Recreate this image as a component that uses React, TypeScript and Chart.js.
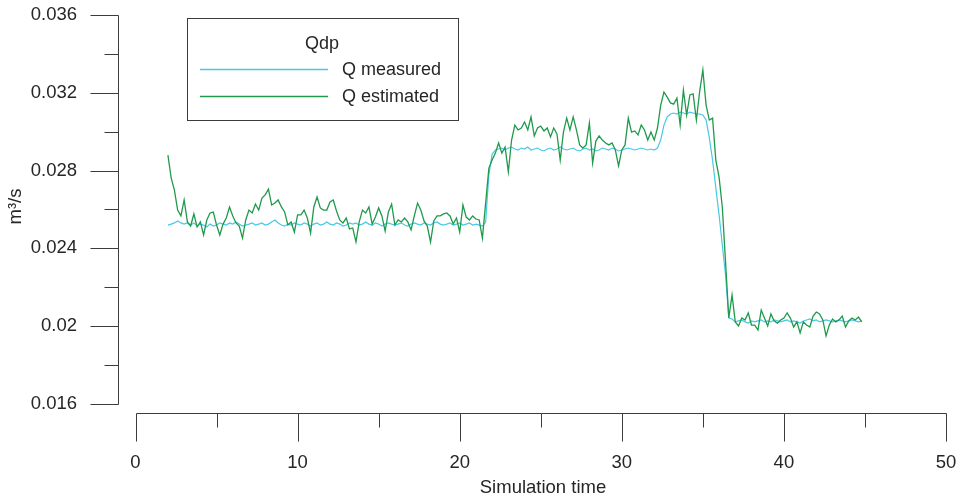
import { useEffect, useRef } from "react";
import { Chart, registerables } from "chart.js";

Chart.register(...registerables);

// Sampling of the simulation output (time units)
const timeStart = 2;
const timeStep = 0.2;

// Measured flow through the orifice, m³/s
const qMeasured = [
  0.02520, 0.02525, 0.02531, 0.02541, 0.02531, 0.02525, 0.02531, 0.02520, 0.02531, 0.02515,
  0.02525, 0.02520, 0.02510, 0.02525, 0.02515, 0.02520, 0.02531, 0.02525, 0.02520, 0.02531,
  0.02525, 0.02536, 0.02525, 0.02515, 0.02520, 0.02525, 0.02531, 0.02520, 0.02525, 0.02531,
  0.02520, 0.02525, 0.02536, 0.02546, 0.02531, 0.02520, 0.02515, 0.02525, 0.02520, 0.02531,
  0.02525, 0.02520, 0.02531, 0.02525, 0.02515, 0.02525, 0.02531, 0.02520, 0.02525, 0.02536,
  0.02525, 0.02520, 0.02531, 0.02525, 0.02515, 0.02520, 0.02531, 0.02525, 0.02531, 0.02520,
  0.02525, 0.02536, 0.02525, 0.02520, 0.02531, 0.02525, 0.02515, 0.02525, 0.02531, 0.02525,
  0.02520, 0.02525, 0.02531, 0.02520, 0.02515, 0.02525, 0.02531, 0.02525, 0.02520, 0.02531,
  0.02525, 0.02520, 0.02531, 0.02536, 0.02525, 0.02520, 0.02525, 0.02531, 0.02520, 0.02525,
  0.02531, 0.02520, 0.02525, 0.02531, 0.02520, 0.02525, 0.02520,
  0.02515, 0.02536, 0.02777, 0.02885, 0.02906, 0.02911, 0.02916,
  0.02906, 0.02916, 0.02921, 0.02911, 0.02906, 0.02916, 0.02911, 0.02921, 0.02906, 0.02911,
  0.02916, 0.02906, 0.02901, 0.02911, 0.02916, 0.02906, 0.02911, 0.02921, 0.02911, 0.02906,
  0.02911, 0.02916, 0.02906, 0.02901, 0.02911, 0.02916, 0.02906, 0.02911, 0.02901, 0.02906,
  0.02916, 0.02911, 0.02906, 0.02916, 0.02911, 0.02901, 0.02906, 0.02911, 0.02916, 0.02911,
  0.02906, 0.02911, 0.02916, 0.02911, 0.02906, 0.02911, 0.02906, 0.02916,
  0.02957, 0.03034, 0.03076, 0.03091, 0.03096, 0.03091, 0.03101, 0.03096, 0.03091, 0.03101,
  0.03096, 0.03091, 0.03091, 0.03086, 0.03060,
  0.02968, 0.02854, 0.02711, 0.02572, 0.02418, 0.02263, 0.02042, 0.02037,
  0.02022, 0.02027, 0.02032, 0.02022, 0.02016, 0.02027, 0.02022, 0.02027, 0.02032, 0.02022,
  0.02027, 0.02022, 0.02032, 0.02027, 0.02022, 0.02027, 0.02032, 0.02022, 0.02027, 0.02022,
  0.02016, 0.02027, 0.02032, 0.02037, 0.02027, 0.02032, 0.02022, 0.02027, 0.02032, 0.02027,
  0.02022, 0.02027, 0.02032, 0.02027, 0.02022, 0.02027, 0.02032, 0.02027, 0.02022, 0.02027,
];

// Flow estimated from the differential pressure, m³/s
const qEstimated = [
  0.02880, 0.02762, 0.02700, 0.02597, 0.02567, 0.02649, 0.02536, 0.02515, 0.02577, 0.02510,
  0.02536, 0.02469, 0.02546, 0.02582, 0.02587, 0.02520, 0.02469, 0.02525, 0.02556, 0.02613,
  0.02567, 0.02531, 0.02515, 0.02453, 0.02546, 0.02597, 0.02582, 0.02628, 0.02597, 0.02659,
  0.02675, 0.02705, 0.02623, 0.02633, 0.02649, 0.02613, 0.02587, 0.02520, 0.02536, 0.02484,
  0.02572, 0.02572, 0.02597, 0.02556, 0.02479, 0.02613, 0.02664, 0.02608, 0.02597, 0.02597,
  0.02639, 0.02649, 0.02592, 0.02546, 0.02531, 0.02556, 0.02500, 0.02505, 0.02433, 0.02536,
  0.02597, 0.02582, 0.02613, 0.02525, 0.02561, 0.02608, 0.02567, 0.02489, 0.02587, 0.02628,
  0.02520, 0.02546, 0.02536, 0.02556, 0.02536, 0.02495, 0.02567, 0.02633, 0.02597, 0.02541,
  0.02515, 0.02433, 0.02541, 0.02567, 0.02567, 0.02577, 0.02582, 0.02567, 0.02525, 0.02556,
  0.02484, 0.02623, 0.02561, 0.02546, 0.02567, 0.02551, 0.02546, 0.02453, 0.02633, 0.02813,
  0.02854, 0.02890, 0.02942, 0.02890, 0.02921, 0.02793, 0.02957, 0.03034, 0.03009, 0.03019,
  0.03050, 0.03009, 0.03076, 0.02978, 0.03019, 0.03029, 0.03004, 0.03019, 0.02973, 0.03019,
  0.02988, 0.02854, 0.02998, 0.03070, 0.03009, 0.03076, 0.03009, 0.02932, 0.02916, 0.02932,
  0.03045, 0.02839, 0.02952, 0.02978, 0.02957, 0.02942, 0.02932, 0.02942, 0.02906, 0.02824,
  0.02906, 0.02932, 0.03070, 0.02998, 0.03004, 0.02983, 0.03034, 0.03009, 0.02957, 0.02998,
  0.02957, 0.03019, 0.03137, 0.03204, 0.03178, 0.03148, 0.03142, 0.03173, 0.03034, 0.03214,
  0.03086, 0.03189, 0.03194, 0.03060, 0.03204, 0.03317, 0.03137, 0.03060, 0.03070, 0.02854,
  0.02767, 0.02613, 0.02330, 0.02042, 0.02160, 0.02022, 0.02001, 0.02042, 0.02032, 0.02068,
  0.02006, 0.02006, 0.01980, 0.02083, 0.02042, 0.02001, 0.02063, 0.02027, 0.02016, 0.02032,
  0.02042, 0.02068, 0.02042, 0.01996, 0.02022, 0.01965, 0.02022, 0.02006, 0.01996, 0.02052,
  0.02073, 0.02063, 0.02032, 0.01950, 0.02006, 0.02037, 0.02022, 0.02032, 0.02052, 0.01996,
  0.02027, 0.02042, 0.02032, 0.02047, 0.02022,
];

const times = qEstimated.map((_, i) => +(timeStart + i * timeStep).toFixed(2));

// Axis ticks
const xMajorTicks = [0, 10, 20, 30, 40, 50];
const xMinorTicks = [5, 15, 25, 35, 45];
const yMajorTicks = [0.016, 0.02, 0.024, 0.028, 0.032, 0.036];
const yMinorTicks = [0.018, 0.022, 0.026, 0.03, 0.034];

const xAxisTitle = "Simulation time";
const yAxisTitle = "m³/s";
const legendTitle = "Qdp";
const seriesNames = ["Q measured", "Q estimated"];

const FONT_FAMILY = "'Liberation Sans', Arial, Helvetica, sans-serif";
const TEXT_COLOR = "#262626";
const AXIS_COLOR = "#3c3c3c";
const MEASURED_COLOR = "#47c9e5";
const ESTIMATED_COLOR = "#1f9a4c";

const MAJOR_TICK = 28;
const MINOR_TICK = 14;

// Detached, range-limited axes with long major and short minor tick marks
const detachedAxes = {
  id: "detachedAxes",
  afterDraw(chart: any) {
    const { ctx, chartArea } = chart;
    const xs = chart.scales.x;
    const ys = chart.scales.y;
    const crisp = (v: number) => Math.round(v) + 0.5;
    ctx.save();
    ctx.strokeStyle = AXIS_COLOR;
    ctx.lineWidth = 1;
    ctx.beginPath();

    const ax = crisp(chartArea.left);
    const yTop = crisp(ys.getPixelForValue(yMajorTicks[yMajorTicks.length - 1]));
    const yBot = crisp(ys.getPixelForValue(yMajorTicks[0]));
    ctx.moveTo(ax, yTop);
    ctx.lineTo(ax, yBot);
    yMajorTicks.forEach((v) => {
      const p = crisp(ys.getPixelForValue(v));
      ctx.moveTo(ax - MAJOR_TICK, p);
      ctx.lineTo(ax, p);
    });
    yMinorTicks.forEach((v) => {
      const p = crisp(ys.getPixelForValue(v));
      ctx.moveTo(ax - MINOR_TICK, p);
      ctx.lineTo(ax, p);
    });

    const ay = crisp(chartArea.bottom);
    const xL = crisp(xs.getPixelForValue(xMajorTicks[0]));
    const xR = crisp(xs.getPixelForValue(xMajorTicks[xMajorTicks.length - 1]));
    ctx.moveTo(xL, ay);
    ctx.lineTo(xR, ay);
    xMajorTicks.forEach((v) => {
      const p = crisp(xs.getPixelForValue(v));
      ctx.moveTo(p, ay);
      ctx.lineTo(p, ay + MAJOR_TICK);
    });
    xMinorTicks.forEach((v) => {
      const p = crisp(xs.getPixelForValue(v));
      ctx.moveTo(p, ay);
      ctx.lineTo(p, ay + MINOR_TICK);
    });
    ctx.stroke();
    ctx.restore();
  },
};

// Boxed legend with a centred title
const boxedLegend = {
  id: "boxedLegend",
  afterDraw(chart: any) {
    const { ctx } = chart;
    const box = { x: 187.5, y: 18.5, w: 271, h: 102 };
    ctx.save();
    ctx.fillStyle = "#ffffff";
    ctx.fillRect(box.x, box.y, box.w, box.h);
    ctx.strokeStyle = AXIS_COLOR;
    ctx.lineWidth = 1;
    ctx.strokeRect(box.x, box.y, box.w, box.h);

    ctx.font = `18px ${FONT_FAMILY}`;
    ctx.fillStyle = TEXT_COLOR;
    ctx.textBaseline = "middle";
    ctx.textAlign = "center";
    ctx.fillText(legendTitle, 322, 44);

    const colors = [MEASURED_COLOR, ESTIMATED_COLOR];
    const rows = [70, 97];
    ctx.textAlign = "left";
    seriesNames.forEach((name, i) => {
      ctx.strokeStyle = colors[i];
      ctx.lineWidth = 1.3;
      ctx.beginPath();
      ctx.moveTo(200, rows[i] - 0.5);
      ctx.lineTo(328, rows[i] - 0.5);
      ctx.stroke();
      ctx.fillStyle = TEXT_COLOR;
      ctx.fillText(name, 342, rows[i]);
    });
    ctx.restore();
  },
};

export default function App() {
  const canvasRef = useRef<HTMLCanvasElement | null>(null);

  useEffect(() => {
    if (!canvasRef.current) return;
    const font = { family: FONT_FAMILY, size: 18.5 };
    const chart = new Chart(canvasRef.current, {
      type: "line",
      data: {
        datasets: [
          {
            label: seriesNames[1],
            data: qEstimated.map((v, i) => ({ x: times[i], y: v })),
            borderColor: ESTIMATED_COLOR,
            borderWidth: 1.3,
            pointRadius: 0,
            tension: 0,
            order: 0,
          },
          {
            label: seriesNames[0],
            data: qMeasured.map((v, i) => ({ x: times[i], y: v })),
            borderColor: MEASURED_COLOR,
            borderWidth: 1.2,
            pointRadius: 0,
            tension: 0,
            order: 1,
          },
        ],
      },
      options: {
        animation: false,
        responsive: true,
        maintainAspectRatio: false,
        devicePixelRatio: 1,
        layout: { padding: 0 },
        plugins: {
          legend: { display: false },
          tooltip: { enabled: false },
        },
        events: [],
        scales: {
          x: {
            type: "linear",
            min: -1.08,
            max: 51.357,
            grid: { display: false, drawTicks: false },
            border: { display: false },
            afterBuildTicks: (s: any) => {
              s.ticks = xMajorTicks.map((v) => ({ value: v }));
            },
            afterFit: (s: any) => {
              s.height = 88;
              s.paddingLeft = 0;
              s.paddingRight = 0;
            },
            ticks: {
              font,
              color: TEXT_COLOR,
              padding: 39,
              maxRotation: 0,
              autoSkip: false,
              callback: (v: any) => String(v),
            },
            title: {
              display: true,
              text: xAxisTitle,
              font,
              color: TEXT_COLOR,
              padding: { top: 0, bottom: 2 },
            },
          },
          y: {
            type: "linear",
            min: 0.015537,
            max: 0.036771,
            grid: { display: false, drawTicks: false },
            border: { display: false },
            afterBuildTicks: (s: any) => {
              s.ticks = yMajorTicks.map((v) => ({ value: v }));
            },
            afterFit: (s: any) => {
              s.width = 118;
              s.paddingTop = 0;
              s.paddingBottom = 0;
            },
            ticks: {
              font,
              color: TEXT_COLOR,
              padding: 41,
              autoSkip: false,
              callback: (v: any) => String(parseFloat(Number(v).toFixed(3))),
            },
            title: {
              display: true,
              text: yAxisTitle,
              font,
              color: TEXT_COLOR,
              padding: { top: 5, bottom: 0 },
            },
          },
        },
      },
      plugins: [detachedAxes, boxedLegend],
    });
    return () => chart.destroy();
  }, []);

  return (
    <div
      style={{
        position: "fixed",
        left: 0,
        top: 0,
        width: 968,
        height: 501,
        background: "#ffffff",
      }}
    >
      <canvas ref={canvasRef} />
    </div>
  );
}
